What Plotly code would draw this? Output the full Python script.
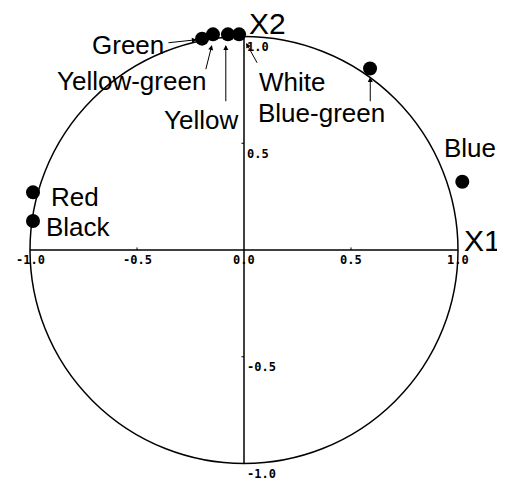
import plotly.graph_objects as go

# loadings on the two axes
colours = ['Red', 'Black', 'Green', 'Yellow-green', 'Yellow', 'White', 'Blue-green', 'Blue']
x1 = [-0.986, -0.986, -0.196, -0.145, -0.075, -0.023, 0.589, 1.02]
x2 = [0.27, 0.136, 0.99, 1.01, 1.01, 1.01, 0.85, 0.32]

tick_vals = [-1.0, -0.5, 0.0, 0.5, 1.0]
tick_text = ['-1.0', '-0.5', '0.0', '0.5', '1.0']

label_font = dict(family='Liberation Sans, Arial', size=26, color='black')
tick_font = dict(family='DejaVu Sans Mono, Courier New', size=12, color='black')

fig = go.Figure()

fig.add_trace(go.Scatter(
    x=x1, y=x2, mode='markers',
    marker=dict(size=14, color='black'),
    hoverinfo='text', text=colours,
    showlegend=False,
))

# unit circle and axes
fig.add_shape(type='circle', x0=-1, y0=-1, x1=1, y1=1,
              line=dict(color='black', width=1.5))
fig.add_shape(type='line', x0=-1, y0=0, x1=1, y1=0, line=dict(color='black', width=1.5))
fig.add_shape(type='line', x0=0, y0=-1, x1=0, y1=1, line=dict(color='black', width=1.5))
for t in [-0.5, 0.5]:
    fig.add_shape(type='line', x0=t, y0=0, x1=t, y1=0.012, line=dict(color='black', width=1))
    fig.add_shape(type='line', x0=-0.012, y0=t, x1=0, y1=t, line=dict(color='black', width=1))

# tick labels
for v, s in zip(tick_vals, tick_text):
    fig.add_annotation(x=v, y=-0.048, text='<b>%s</b>' % s, showarrow=False,
                       font=tick_font, xanchor='center', yanchor='middle')
    if v != 0:
        fig.add_annotation(x=0.005, y=v - 0.05, text='<b>%s</b>' % s, showarrow=False,
                           font=tick_font, xanchor='left', yanchor='middle')

# axis names
fig.add_annotation(x=0.015, y=1.06, text='X2', showarrow=False, xanchor='left', yanchor='middle',
                   font=dict(family='Liberation Sans, Arial', size=30, color='black'))
fig.add_annotation(x=1.02, y=0.045, text='X1', showarrow=False, xanchor='left', yanchor='middle',
                   font=dict(family='Liberation Sans, Arial', size=30, color='black'))

# point labels
labels = [
    ('Red', -0.91, 0.248),
    ('Black', -0.935, 0.11),
    ('Green', -0.72, 0.96),
    ('Yellow-green', -0.885, 0.79),
    ('Yellow', -0.385, 0.61),
    ('White', 0.06, 0.785),
    ('Blue-green', 0.055, 0.643),
    ('Blue', 0.925, 0.48),
]
for name, tx, ty in labels:
    fig.add_annotation(x=tx, y=ty, text=name, showarrow=False, font=label_font,
                       xanchor='left', yanchor='middle')

arrows = [
    (-0.36, 0.97, -0.22, 0.985),
    (-0.18, 0.84, -0.15, 0.96),
    (-0.085, 0.69, -0.085, 0.96),
    (0.065, 0.87, 0.01, 0.97),
    (0.59, 0.69, 0.59, 0.81),
]
for ax0, ay0, hx, hy in arrows:
    fig.add_annotation(x=hx, y=hy, ax=ax0, ay=ay0, xref='x', yref='y', axref='x', ayref='y',
                       text='', showarrow=True, arrowhead=2, arrowsize=1, arrowwidth=1,
                       arrowcolor='black')

# the page puts the figure 8px in from the top-left corner
fig.update_layout(
    width=497, height=477,
    margin=dict(l=0, r=0, t=0, b=0),
    plot_bgcolor='white', paper_bgcolor='white',
    xaxis=dict(range=[-1.1028, 1.2196], visible=False, fixedrange=True),
    yaxis=dict(range=[-1.1007, 1.1335], visible=False, fixedrange=True),
)

fig.write_html("out.html")
